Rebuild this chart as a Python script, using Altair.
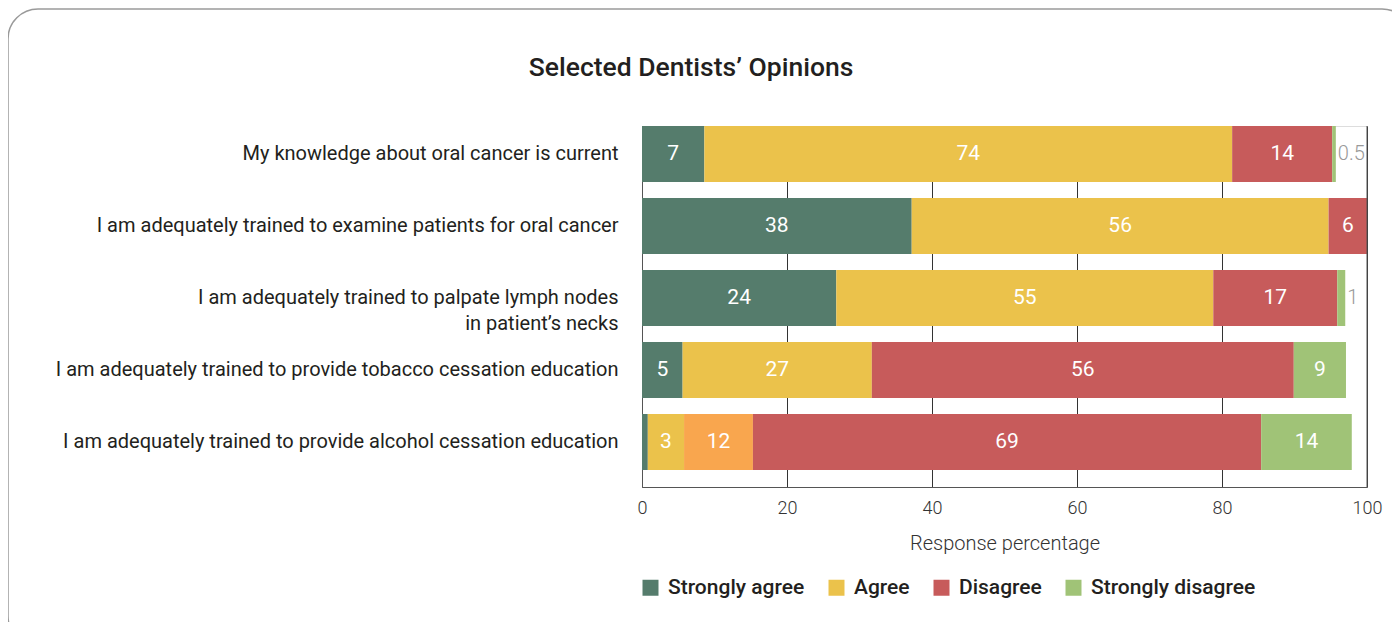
import altair as alt
import pandas as pd

title_text = "Selected Dentists’ Opinions"
questions = [
    "My knowledge about oral cancer is current",
    "I am adequately trained to examine patients for oral cancer",
    "I am adequately trained to palpate lymph nodes|in patient’s necks",
    "I am adequately trained to provide tobacco cessation education",
    "I am adequately trained to provide alcohol cessation education",
]
categories = ["Strongly agree", "Agree", "Unsure", "Disagree", "Strongly disagree"]
legend_categories = ["Strongly agree", "Agree", "Disagree", "Strongly disagree"]
colors = ["#557c6c", "#ebc24b", "#f9a64e", "#c75b5b", "#a0c377"]

strongly_agree = [8.6, 37.2, 26.8, 5.6, 0.8]
agree = [72.8, 57.5, 52.0, 26.1, 5.0]
unsure = [0, 0, 0, 0, 9.5]
disagree = [13.8, 5.3, 17.1, 58.2, 70.1]
strongly_disagree = [0.5, 0, 1.1, 7.2, 12.5]

sa_labels = ["7", "38", "24", "5", ""]
ag_labels = ["74", "56", "55", "27", "3"]
un_labels = ["", "", "", "", "12"]
di_labels = ["14", "6", "17", "56", "69"]
sd_labels = ["0.5", "", "1", "9", "14"]
sd_outside = [True, False, True, False, False]

series = [strongly_agree, agree, unsure, disagree, strongly_disagree]
labels = [sa_labels, ag_labels, un_labels, di_labels, sd_labels]

rows = []
for ci, cat in enumerate(categories):
    for qi, q in enumerate(questions):
        rows.append({
            "question": q,
            "category": cat,
            "order": ci,
            "value": series[ci][qi],
            "label": labels[ci][qi],
            "outside": bool(cat == "Strongly disagree" and sd_outside[qi]),
        })
df = pd.DataFrame(rows)

FONT = "Roboto"
TXT = "#231f20"

base = alt.Chart(df).transform_stack(
    stack="value", groupby=["question"], as_=["x0", "x1"],
    sort=[alt.SortField("order", order="ascending")],
).transform_calculate(mid="(datum.x0 + datum.x1) / 2")

y_enc = alt.Y(
    "question:N", sort=questions, title=None,
    scale=alt.Scale(paddingInner=0.222, paddingOuter=0.118, align=0),
    axis=alt.Axis(
        labelExpr="split(datum.label, '|')", labelFontSize=20, labelFont=FONT,
        labelColor=TXT, labelLimit=700, labelPadding=24, ticks=False,
        domainColor="#555555", labelLineHeight=26, labelFontWeight=400,
    ),
)

bars = base.mark_bar(stroke=None).encode(
    x=alt.X(
        "x0:Q", title="Response percentage",
        scale=alt.Scale(domain=[0, 100], nice=False, zero=True),
        axis=alt.Axis(
            values=[0, 20, 40, 60, 80, 100], grid=True, gridColor="#333333",
            gridWidth=1, ticks=False, domainColor="#555555", labelFlush=False,
            labelFontSize=18, labelFont=FONT, labelFontWeight=300, labelColor="#333333",
            labelPadding=12, titleFontSize=20, titleFont=FONT, titleFontWeight=300,
            titleColor="#333333", titlePadding=16,
        ),
    ),
    x2="x1:Q",
    y=y_enc,
    color=alt.Color(
        "category:N",
        scale=alt.Scale(domain=categories, range=colors),
        legend=alt.Legend(
            values=legend_categories, title=None, orient="none", direction="horizontal",
            legendX=-2, legendY=451, symbolType="square", symbolSize=256,
            symbolStrokeWidth=0, symbolOpacity=1, labelFontSize=21, labelFont=FONT,
            labelColor=TXT, labelFontWeight=500, labelOffset=7, columnPadding=21,
            labelLimit=400,
        ),
    ),
)

inside = base.transform_filter("!datum.outside && datum.label != ''").mark_text(
    color="white", fontSize=21, font=FONT, fontWeight=400, baseline="middle",
).encode(x="mid:Q", y=alt.Y("question:N", sort=questions), text="label:N")

outside = base.transform_filter("datum.outside").mark_text(
    color="#999999", fontSize=20, font=FONT, fontWeight=300, baseline="middle",
    align="left", dx=2,
).encode(x="x1:Q", y=alt.Y("question:N", sort=questions), text="label:N")

right_edge = alt.Chart(pd.DataFrame({"v": [100]})).mark_rule(
    color="#555555", strokeWidth=1
).encode(x=alt.X("v:Q"))

frame = alt.Chart(pd.DataFrame({"a": [0]})).mark_rect(
    fill="white", fillOpacity=0, stroke="#9a9a9a", strokeWidth=1.5, cornerRadius=30,
).encode(
    x=alt.value(-634), x2=alt.value(770), y=alt.value(-117), y2=alt.value(520),
)

title = alt.Chart(pd.DataFrame({"t": [title_text]})).mark_text(
    fontSize=26.5, fontWeight=500, font=FONT, color=TXT, align="center", baseline="middle",
).encode(text="t:N", x=alt.value(49), y=alt.value(-58))

chart = alt.layer(frame, bars, right_edge, inside, outside, title).properties(
    width=725,
    height=361,
    autosize=alt.AutoSizeParams(type="none"),
    padding={"left": 634, "top": 118, "right": 25, "bottom": 135},
).configure_view(stroke=None).configure(background="white")

chart.save("out.html", embed_options={"renderer": "svg", "actions": False})
